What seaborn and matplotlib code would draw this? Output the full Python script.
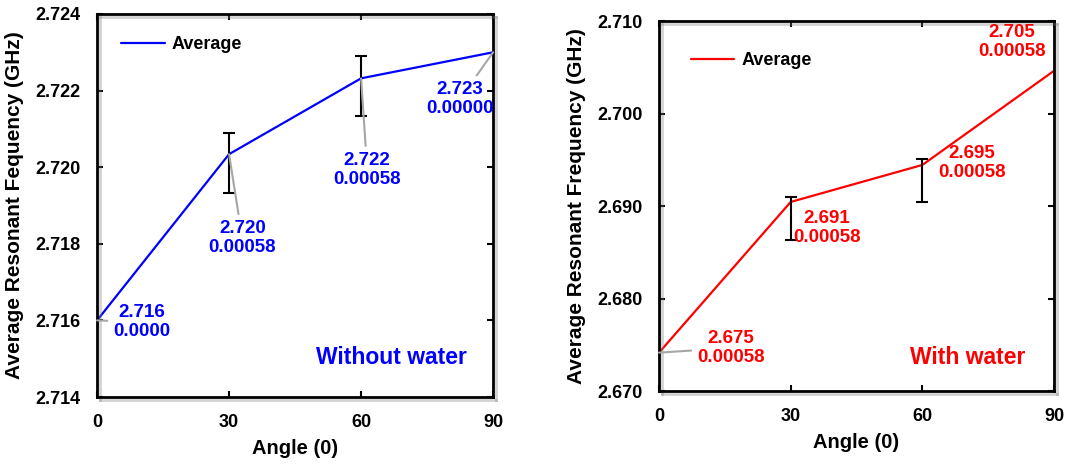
import pandas as pd
import matplotlib
matplotlib.use('Agg')
import matplotlib.pyplot as plt
import matplotlib.patheffects as pe
import seaborn as sns

# values
angles = [0, 30, 60, 90]

dry_freq = [2.7160, 2.72034, 2.72232, 2.7230]
dry_err_low = [0.0, 0.00101, 0.00099, 0.0]
dry_err_high = [0.0, 0.00056, 0.00058, 0.0]
dry_labels = ['2.716\n0.0000', '2.720\n0.00058', '2.722\n0.00058', '2.723\n0.00000']

wet_freq = [2.67415, 2.69044, 2.69444, 2.70462]
wet_err_low = [0.0, 0.00408, 0.00400, 0.0]
wet_err_high = [0.0, 0.00054, 0.00065, 0.0]
wet_labels = ['2.675\n0.00058', '2.691\n0.00058', '2.695\n0.00058', '2.705\n0.00058']

sns.set_style('ticks')
plt.rcParams['font.family'] = ['Liberation Sans', 'DejaVu Sans']
plt.rcParams['font.weight'] = 'bold'
plt.rcParams['axes.labelweight'] = 'bold'
plt.rcParams['text.color'] = 'black'
plt.rcParams['axes.labelcolor'] = 'black'
plt.rcParams['xtick.color'] = 'black'
plt.rcParams['ytick.color'] = 'black'

df = pd.DataFrame({'angle': angles, 'dry': dry_freq, 'wet': wet_freq})

fig = plt.figure(figsize=(10.88, 4.65), dpi=100)
ax1 = fig.add_axes([0.0892, 0.1462, 0.364, 0.8237])
ax2 = fig.add_axes([0.6057, 0.1591, 0.3631, 0.7957])

shadow = [pe.SimpleLineShadow(offset=(2, -2), shadow_color='gray', alpha=0.35), pe.Normal()]


def style_axes(ax, ylim, yticks, yfmt, ylabel):
    ax.set_xlim(0, 90)
    ax.set_xticks([0, 30, 60, 90])
    ax.set_ylim(*ylim)
    ax.set_yticks(yticks)
    ax.set_yticklabels([yfmt.format(v) for v in yticks])
    ax.tick_params(direction='in', top=True, right=True, length=4, width=1.5,
                   labelsize=13, pad=12, colors='black', labelcolor='black')
    for lab in ax.get_xticklabels() + ax.get_yticklabels():
        lab.set_fontweight('bold')
    for sp in ax.spines.values():
        sp.set_linewidth(2)
        sp.set_color('black')
        sp.set_path_effects(shadow)
    ax.set_xlabel('Angle (0)', fontsize=14.5, fontweight='bold', labelpad=6, color='black')
    ax.set_ylabel(ylabel, fontsize=15, fontweight='bold', labelpad=8, color='black')


# left panel: without water
sns.lineplot(data=df, x='angle', y='dry', ax=ax1, color='#0000ff', lw=1.6, label='Average')
ax1.errorbar(angles[1:3], dry_freq[1:3], yerr=[dry_err_low[1:3], dry_err_high[1:3]],
             fmt='none', ecolor='black', elinewidth=1.5, capsize=4, capthick=1.5)
style_axes(ax1, (2.714, 2.724), [2.714, 2.716, 2.718, 2.720, 2.722, 2.724], '{:.3f}',
           'Average Resonant Fequency (GHz)')

dry_text_pos = [(10.2, 2.71596), (33.0, 2.71815), (61.4, 2.71993), (82.5, 2.72178)]
for x, y, txt, pos in zip(angles, dry_freq, dry_labels, dry_text_pos):
    ax1.annotate(txt, xy=(x, y), xytext=pos, ha='center', va='center',
                 fontsize=13.5, fontweight='bold', color='#0000ff', linespacing=1.15,
                 arrowprops=dict(arrowstyle='-', color='#a6a6a6', lw=1.5,
                                 shrinkA=2, shrinkB=0))
ax1.text(66.8, 2.71502, 'Without water', ha='center', va='center', fontsize=16.5,
         fontweight='bold', color='#0000ff')
ax1.legend(loc='upper left', bbox_to_anchor=(0.02, 0.985), frameon=False,
           handlelength=2.4, handletextpad=0.4, prop={'size': 13, 'weight': 'bold'})

# right panel: with water
sns.lineplot(data=df, x='angle', y='wet', ax=ax2, color='#ff0000', lw=1.6, label='Average')
ax2.errorbar(angles[1:3], wet_freq[1:3], yerr=[wet_err_low[1:3], wet_err_high[1:3]],
             fmt='none', ecolor='black', elinewidth=1.5, capsize=4, capthick=1.5)
style_axes(ax2, (2.670, 2.710), [2.670, 2.680, 2.690, 2.700, 2.710], '{:.3f}',
           'Average Resonant Frequency (GHz)')

wet_text_pos = [(16.4, 2.67465), (38.3, 2.68762), (71.3, 2.69465), (80.4, 2.70773)]
ax2.annotate(wet_labels[0], xy=(angles[0], wet_freq[0]), xytext=wet_text_pos[0],
             ha='center', va='center', fontsize=13.5, fontweight='bold', color='#ff0000',
             linespacing=1.15,
             arrowprops=dict(arrowstyle='-', color='#a6a6a6', lw=1.5, shrinkA=2, shrinkB=0))
for txt, pos in zip(wet_labels[1:], wet_text_pos[1:]):
    ax2.text(pos[0], pos[1], txt, ha='center', va='center', fontsize=13.5,
             fontweight='bold', color='#ff0000', linespacing=1.15)
ax2.text(70.4, 2.67357, 'With water', ha='center', va='center', fontsize=16.5,
         fontweight='bold', color='#ff0000')
ax2.legend(loc='upper left', bbox_to_anchor=(0.04, 0.96), frameon=False,
           handlelength=2.4, handletextpad=0.4, prop={'size': 13, 'weight': 'bold'})
for t in ax1.get_legend().get_texts() + ax2.get_legend().get_texts():
    t.set_color('black')

plt.savefig('out.png', dpi=100)
